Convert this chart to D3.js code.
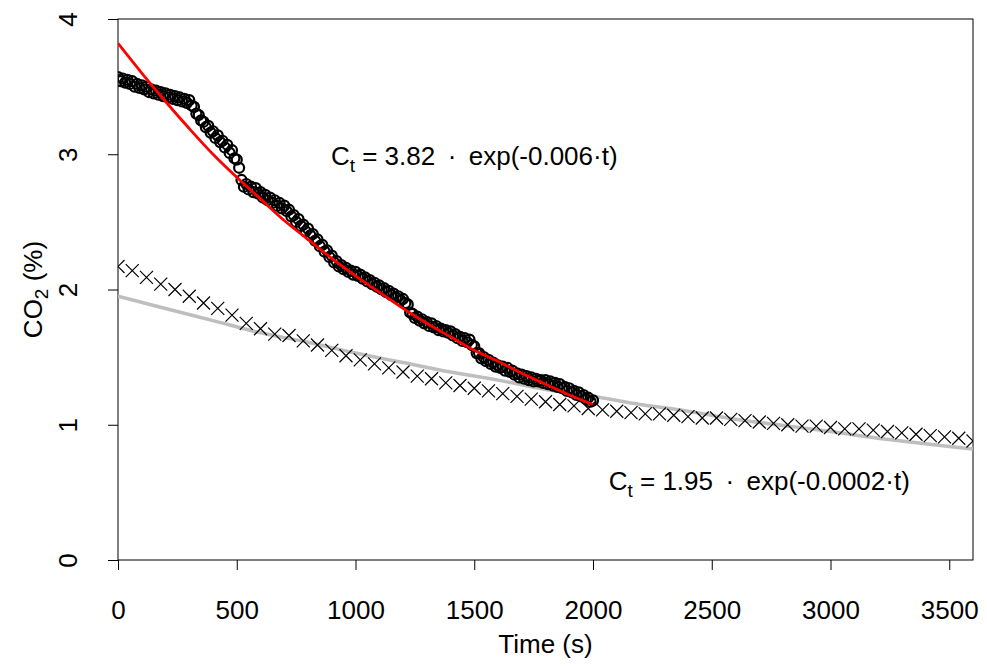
<!DOCTYPE html>
<html lang="en">
<head>
    <meta charset="UTF-8">
    <title>CO2 decay</title>
    <style>
        body { margin: 0; background: #fff; }
        text { font-family: "Liberation Sans", Arial, sans-serif; fill: #000; }
    </style>
</head>
<body>
    <div id="chart-container"></div>
    <script src="https://d3js.org/d3.v7.min.js"></script>
    <script>
        // fast decay run, one reading every 10 s from t = 0
        const CIRCLE_STEP = 10;
        const circleValues = [
            3.57, 3.54, 3.56, 3.53, 3.55, 3.52, 3.54, 3.50, 3.52, 3.49,
            3.51, 3.48, 3.50, 3.46, 3.48, 3.45, 3.47, 3.44, 3.46, 3.43,
            3.45, 3.42, 3.44, 3.41, 3.43, 3.40, 3.42, 3.39, 3.41, 3.38,
            3.40, 3.36, 3.35, 3.30, 3.29, 3.25, 3.24, 3.20, 3.21, 3.16,
            3.17, 3.12, 3.14, 3.09, 3.10, 3.05, 3.07, 3.01, 3.03, 2.97,
            2.96, 2.90, 2.81, 2.76, 2.78, 2.74, 2.76, 2.72, 2.75, 2.71,
            2.72, 2.68, 2.70, 2.66, 2.68, 2.64, 2.66, 2.62, 2.64, 2.60,
            2.62, 2.58, 2.59, 2.54, 2.55, 2.50, 2.52, 2.47, 2.48, 2.43,
            2.45, 2.40, 2.41, 2.36, 2.37, 2.32, 2.33, 2.28, 2.29, 2.24,
            2.25, 2.20, 2.21, 2.17, 2.18, 2.15, 2.16, 2.13, 2.14, 2.11,
            2.13, 2.10, 2.11, 2.08, 2.09, 2.06, 2.07, 2.04, 2.05, 2.02,
            2.03, 2.00, 2.01, 1.98, 1.99, 1.96, 1.97, 1.94, 1.95, 1.92,
            1.93, 1.90, 1.89, 1.83, 1.82, 1.79, 1.80, 1.77, 1.78, 1.75,
            1.76, 1.73, 1.75, 1.72, 1.73, 1.70, 1.71, 1.69, 1.70, 1.68,
            1.69, 1.66, 1.67, 1.64, 1.65, 1.62, 1.64, 1.61, 1.63, 1.59,
            1.58, 1.53, 1.53, 1.49, 1.50, 1.47, 1.48, 1.45, 1.46, 1.43,
            1.44, 1.42, 1.43, 1.40, 1.42, 1.39, 1.40, 1.37, 1.38, 1.35,
            1.37, 1.34, 1.36, 1.33, 1.35, 1.32, 1.34, 1.32, 1.33, 1.31,
            1.33, 1.30, 1.32, 1.29, 1.31, 1.28, 1.30, 1.27, 1.28, 1.25,
            1.27, 1.24, 1.25, 1.22, 1.24, 1.21, 1.22, 1.19, 1.20, 1.17,
            1.18
        ];

        // slow decay run, one reading every 60 s from t = 0
        const CROSS_STEP = 60;
        const crossValues = [
            2.17, 2.14, 2.09, 2.04, 2.00, 1.95, 1.90, 1.86, 1.81, 1.75,
            1.71, 1.67, 1.66, 1.62, 1.59, 1.55, 1.51, 1.48, 1.45, 1.42,
            1.39, 1.36, 1.34, 1.31, 1.29, 1.27, 1.25, 1.23, 1.21, 1.19,
            1.17, 1.15, 1.14, 1.12, 1.11, 1.10, 1.09, 1.08, 1.08, 1.07,
            1.06, 1.05, 1.05, 1.04, 1.03, 1.02, 1.01, 1.00, 0.99, 0.99,
            0.98, 0.97, 0.97, 0.96, 0.95, 0.94, 0.93, 0.92, 0.91, 0.90,
            0.88
        ];

        // fitted curves
        const redFitTimes = [0, 100, 200, 300, 400, 500, 600, 700, 800, 900, 1000,
            1100, 1200, 1300, 1400, 1500, 1600, 1700, 1800, 1900, 2000];
        const redFitValues = [3.82, 3.60, 3.39, 3.19, 3.00, 2.83, 2.67, 2.51, 2.37, 2.23, 2.10,
            1.98, 1.86, 1.75, 1.65, 1.55, 1.47, 1.38, 1.30, 1.22, 1.15];
        const grayFitTimes = [0, 200, 400, 600, 800, 1000, 1200, 1400, 1600, 1800,
            2000, 2200, 2400, 2600, 2800, 3000, 3200, 3400, 3600];
        const grayFitValues = [1.95, 1.86, 1.77, 1.68, 1.61, 1.53, 1.46, 1.39, 1.33, 1.26,
            1.21, 1.15, 1.10, 1.04, 0.995, 0.95, 0.90, 0.86, 0.82];

        const xTicks = [0, 500, 1000, 1500, 2000, 2500, 3000, 3500];
        const yTicks = [0, 1, 2, 3, 4];

        const MARGIN = {LEFT: 118, TOP: 19, RIGHT: 14, BOTTOM: 108};
        const WIDTH = 987 - MARGIN.LEFT - MARGIN.RIGHT;
        const HEIGHT = 668 - MARGIN.TOP - MARGIN.BOTTOM;
        const FONT = "26px";

        const svg = d3.select("#chart-container").append("svg")
            .attr("width", 987)
            .attr("height", 668);
        svg.append("defs").append("clipPath").attr("id", "plot-clip")
            .append("rect").attr("width", WIDTH).attr("height", HEIGHT);
        const g = svg.append("g")
            .attr("transform", `translate(${MARGIN.LEFT}, ${MARGIN.TOP})`);

        const x = d3.scaleLinear().domain([0, 3600]).range([0, WIDTH]);
        const y = d3.scaleLinear().domain([0, 4]).range([HEIGHT, 0]);

        // axes
        const xAxis = g.append("g")
            .attr("transform", `translate(0, ${HEIGHT})`)
            .call(d3.axisBottom(x).tickValues(xTicks).tickSize(10).tickFormat(d3.format("d")));
        xAxis.select(".domain").remove();
        xAxis.selectAll("line").attr("stroke", "#000");
        xAxis.selectAll("text")
            .attr("y", 59).attr("dy", 0)
            .style("font-size", FONT);

        const yAxis = g.append("g")
            .call(d3.axisLeft(y).tickValues(yTicks).tickSize(10));
        yAxis.select(".domain").remove();
        yAxis.selectAll("line").attr("stroke", "#000");
        yAxis.selectAll("text").remove();
        yAxis.selectAll(".tick").append("text")
            .attr("transform", "translate(-41, 0) rotate(-90)")
            .attr("text-anchor", "middle")
            .style("font-size", FONT)
            .text(d => d);

        // frame
        g.append("rect")
            .attr("width", WIDTH).attr("height", HEIGHT)
            .attr("fill", "none").attr("stroke", "#000");

        // axis titles
        svg.append("text")
            .attr("x", MARGIN.LEFT + WIDTH / 2).attr("y", 653)
            .attr("text-anchor", "middle")
            .style("font-size", FONT)
            .text("Time (s)");

        const yTitle = svg.append("text")
            .attr("transform", `translate(42, ${MARGIN.TOP + HEIGHT / 2}) rotate(-90)`)
            .attr("text-anchor", "middle")
            .style("font-size", FONT);
        yTitle.append("tspan").text("CO");
        yTitle.append("tspan").attr("dy", 6).style("font-size", "19px").text("2");
        yTitle.append("tspan").attr("dy", -6).text(" (%)");

        const plot = g.append("g").attr("clip-path", "url(#plot-clip)");

        // gray fit drawn under the points
        plot.append("path")
            .datum(grayFitTimes.map((t, i) => [t, grayFitValues[i]]))
            .attr("fill", "none")
            .attr("stroke", "#bebebe")
            .attr("stroke-width", 3.5)
            .attr("d", d3.line().curve(d3.curveMonotoneX).x(d => x(d[0])).y(d => y(d[1])));

        plot.selectAll(".cross").data(crossValues)
            .enter().append("path")
            .attr("class", "cross")
            .attr("transform", (d, i) => `translate(${x(i * CROSS_STEP)}, ${y(d)})`)
            .attr("d", "M-6.5,-6.5L6.5,6.5M-6.5,6.5L6.5,-6.5")
            .attr("stroke", "#000")
            .attr("stroke-width", 1.2);

        plot.selectAll(".circle").data(circleValues)
            .enter().append("circle")
            .attr("class", "circle")
            .attr("cx", (d, i) => x(i * CIRCLE_STEP))
            .attr("cy", d => y(d))
            .attr("r", 5)
            .attr("fill", "none")
            .attr("stroke", "#000")
            .attr("stroke-width", 2.2);

        plot.append("path")
            .datum(redFitTimes.map((t, i) => [t, redFitValues[i]]))
            .attr("fill", "none")
            .attr("stroke", "#ff0000")
            .attr("stroke-width", 2.8)
            .attr("d", d3.line().curve(d3.curveMonotoneX).x(d => x(d[0])).y(d => y(d[1])));

        // fit labels
        const labels = [
            {t: 1500, c: 3.0, a: "3.82", k: "-0.006"},
            {t: 2700, c: 0.6, a: "1.95", k: "-0.0002"}
        ];
        labels.forEach(l => {
            const txt = g.append("text")
                .attr("x", x(l.t)).attr("y", y(l.c) + 11)
                .attr("text-anchor", "middle")
                .style("font-size", FONT);
            txt.append("tspan").text("C");
            txt.append("tspan").attr("dy", 7).style("font-size", "19px").text("t");
            txt.append("tspan").attr("dy", -7).text(` = ${l.a} \u2009\u00b7\u2009 exp(${l.k}\u00b7t)`);
        });
    </script>
</body>
</html>
